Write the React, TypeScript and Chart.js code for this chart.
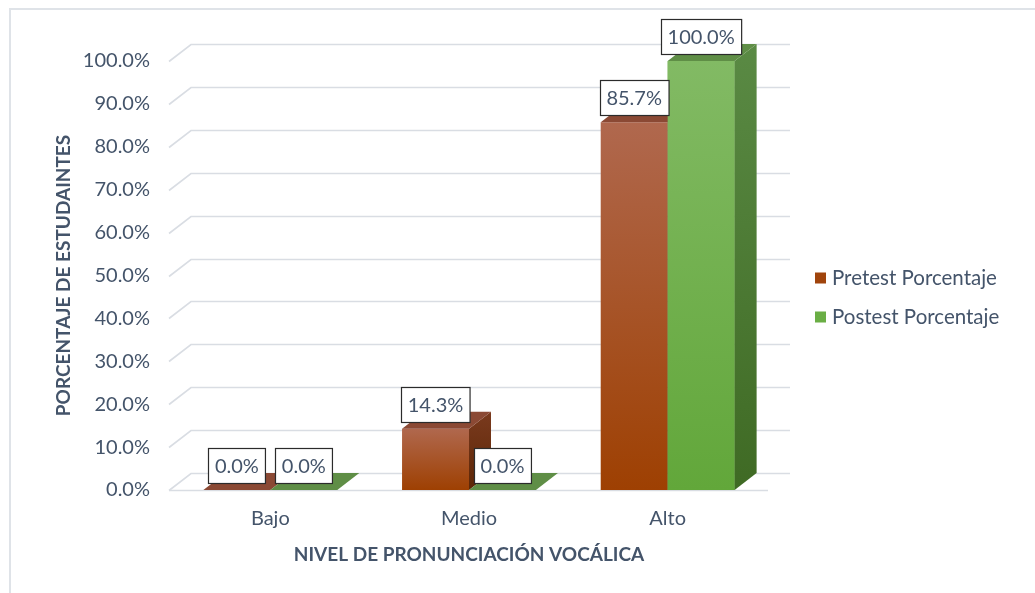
import React, { useEffect, useRef } from "react";
import { Chart, registerables } from "chart.js";

Chart.register(...registerables);

// ---------- data ----------
const categories = ["Bajo", "Medio", "Alto"];
const pretestValues = [0, 14.3, 85.7];
const postestValues = [0, 0, 100];
const seriesNames = ["Pretest Porcentaje", "Postest Porcentaje"];
const yTickValues = [0, 10, 20, 30, 40, 50, 60, 70, 80, 90, 100];
const yAxisTitle = "PORCENTAJE DE ESTUDAINTES";
const xAxisTitle = "NIVEL DE PRONUNCIACIÓN VOCÁLICA";

// ---------- style ----------
const FONT = "Lato";
const TEXT = "#44546A";
const GRID = "#D9DDE3";
const DX = 22;
const DY = -17;

const palettes = [
  {
    frontTop: "#B0684E",
    frontBottom: "#9E4002",
    sideTop: "#7A3A1E",
    sideBottom: "#5C2606",
    topFace: "#8B4934",
    legend: "#A0440C",
  },
  {
    frontTop: "#82BA64",
    frontBottom: "#62A73A",
    sideTop: "#5A8A44",
    sideBottom: "#3F6A24",
    topFace: "#5F8E46",
    legend: "#6AAE45",
  },
];

const fmt = (v: number) => v.toFixed(1) + "%";

const bar3dPlugin = {
  id: "bar3d",
  beforeDraw(chart: any) {
    const { ctx } = chart;
    ctx.save();
    ctx.fillStyle = "#DFE3E8";
    ctx.fillRect(9, 8, 1035, 2);
    ctx.fillRect(9, 8, 2, 593);
    ctx.restore();
  },
  beforeDatasetsDraw(chart: any) {
    const { ctx, chartArea } = chart;
    const y = chart.scales.y;
    const left = chartArea.left - 2;
    const right = chartArea.right;
    ctx.save();
    ctx.strokeStyle = GRID;
    ctx.lineWidth = 1.6;
    yTickValues.forEach((v) => {
      const py = Math.round(y.getPixelForValue(v)) + 0.5;
      ctx.beginPath();
      ctx.moveTo(left, py);
      ctx.lineTo(left + DX, py + DY);
      ctx.lineTo(right + DX + 1, py + DY);
      ctx.stroke();
      if (v === 0) {
        ctx.beginPath();
        ctx.moveTo(left, py);
        ctx.lineTo(right + 1, py);
        ctx.stroke();
      }
    });
    ctx.restore();
  },
  afterDatasetsDraw(chart: any) {
    const { ctx } = chart;
    const metas = [chart.getDatasetMeta(0), chart.getDatasetMeta(1)];
    const drawFaces = (el: any, p: any) => {
      const { x, y, base, width } = el.getProps(["x", "y", "base", "width"], true);
      const x1 = x - width / 2;
      const x2 = x + width / 2;
      if (base - y > 0.5) {
        const g = ctx.createLinearGradient(0, y + DY, 0, base);
        g.addColorStop(0, p.sideTop);
        g.addColorStop(1, p.sideBottom);
        ctx.fillStyle = g;
        ctx.beginPath();
        ctx.moveTo(x2, y);
        ctx.lineTo(x2 + DX, y + DY);
        ctx.lineTo(x2 + DX, base + DY);
        ctx.lineTo(x2, base);
        ctx.closePath();
        ctx.fill();
      }
      ctx.fillStyle = p.topFace;
      ctx.beginPath();
      ctx.moveTo(x1, y);
      ctx.lineTo(x2, y);
      ctx.lineTo(x2 + DX, y + DY);
      ctx.lineTo(x1 + DX, y + DY);
      ctx.closePath();
      ctx.fill();
    };
    ctx.save();
    categories.forEach((_, i) => {
      drawFaces(metas[0].data[i], palettes[0]);
      metas[1].data[i].draw(ctx);
      drawFaces(metas[1].data[i], palettes[1]);
    });
    ctx.font = `20px ${FONT}`;
    ctx.textAlign = "center";
    ctx.textBaseline = "middle";
    metas.forEach((meta, d) => {
      const values = d === 0 ? pretestValues : postestValues;
      meta.data.forEach((el: any, i: number) => {
        const { x, y } = el.getProps(["x", "y"], true);
        const text = fmt(values[i]);
        const w = ctx.measureText(text).width + 13;
        const h = 35;
        const bx = Math.round(x - w / 2) + 0.5;
        const by = Math.round(y - 7 - h) + 0.5;
        ctx.fillStyle = "#FFFFFF";
        ctx.fillRect(bx, by, w, h);
        ctx.strokeStyle = "#2B2B2B";
        ctx.lineWidth = 1.2;
        ctx.strokeRect(bx, by, w, h);
        ctx.fillStyle = TEXT;
        ctx.fillText(text, x, by + h / 2 + 1);
      });
    });
    ctx.restore();
  },
  afterDraw(chart: any) {
    const { ctx, chartArea } = chart;
    ctx.save();
    ctx.font = `20.5px ${FONT}`;
    ctx.textAlign = "left";
    ctx.textBaseline = "middle";
    const lx = chartArea.right + 48;
    const ys = [278, 317];
    seriesNames.forEach((name, i) => {
      ctx.fillStyle = palettes[i].legend;
      ctx.fillRect(lx, ys[i] - 5.5, 11, 11);
      ctx.fillStyle = TEXT;
      ctx.fillText(name, lx + 17, ys[i]);
    });
    ctx.restore();
  },
};

const frontGradient = (idx: number) => (c: any) => {
  const chart = c.chart;
  const p = palettes[idx];
  if (!chart.chartArea || c.raw === undefined) return p.frontBottom;
  const ys = chart.scales.y;
  const top = ys.getPixelForValue(c.raw);
  const bottom = ys.getPixelForValue(0);
  if (bottom - top < 1) return p.frontBottom;
  const g = chart.ctx.createLinearGradient(0, top, 0, bottom);
  g.addColorStop(0, p.frontTop);
  g.addColorStop(1, p.frontBottom);
  return g;
};

export default function App() {
  const ref = useRef<HTMLCanvasElement | null>(null);
  useEffect(() => {
    if (!ref.current) return;
    const chart = new Chart(ref.current, {
      type: "bar",
      data: {
        labels: categories,
        datasets: [
          {
            label: seriesNames[0],
            data: pretestValues,
            backgroundColor: frontGradient(0),
            borderWidth: 0,
            categoryPercentage: 0.674,
            barPercentage: 1,
          },
          {
            label: seriesNames[1],
            data: postestValues,
            backgroundColor: frontGradient(1),
            borderWidth: 0,
            categoryPercentage: 0.674,
            barPercentage: 1,
          },
        ],
      },
      options: {
        responsive: false,
        animation: false,
        layout: { padding: { top: 61, right: 268, bottom: 0, left: 0 } },
        plugins: { legend: { display: false }, tooltip: { enabled: false } },
        scales: {
          x: {
            grid: { display: false, drawTicks: false },
            border: { display: false },
            ticks: { font: { family: FONT, size: 20 }, color: TEXT, padding: 17 },
            title: {
              display: true,
              text: xAxisTitle,
              font: { family: FONT, size: 19, weight: "bold" },
              color: TEXT,
              padding: { top: 0, bottom: 27 },
            },
            afterFit: (s: any) => {
              s.height = 103;
            },
          },
          y: {
            min: 0,
            max: 100,
            grid: { display: false, drawTicks: false },
            border: { display: false },
            afterBuildTicks: (s: any) => {
              s.ticks = yTickValues.map((v) => ({ value: v }));
            },
            ticks: {
              font: { family: FONT, size: 20 },
              color: TEXT,
              padding: 21,
              callback: (v: any) => fmt(Number(v)),
            },
            title: {
              display: true,
              text: yAxisTitle,
              font: { family: FONT, size: 19, weight: "bold" },
              color: TEXT,
              padding: { top: 52, bottom: 0 },
            },
            afterFit: (s: any) => {
              s.width = 171;
            },
          },
        },
      },
      plugins: [bar3dPlugin],
    });
    return () => chart.destroy();
  }, []);
  return (
    <div style={{ position: "absolute", left: 0, top: 0, width: 1035, height: 593, background: "#fff" }}>
      <canvas ref={ref} width={1035} height={593} />
    </div>
  );
}
